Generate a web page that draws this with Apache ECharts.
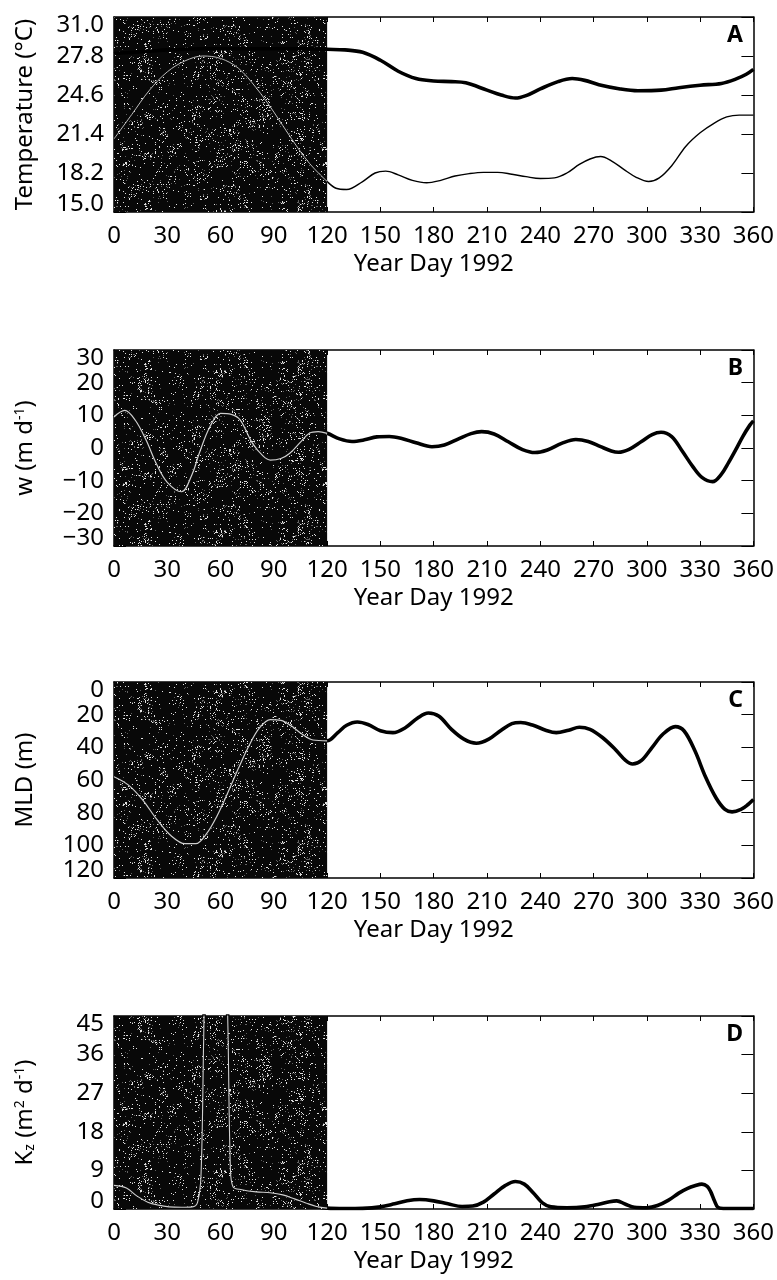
<!DOCTYPE html>
<html><head><meta charset="utf-8">
<script src="https://cdn.jsdelivr.net/npm/echarts@6/dist/echarts.min.js"></script>
<style>html,body{margin:0;padding:0;background:#fff}#c{width:777px;height:1280px}</style>
</head><body><div id="c"></div>
<script>
// ---------------- DATA ----------------
const xTicks = [0,30,60,90,120,150,180,210,240,270,300,330,360];
const tempTicks = [15.0,18.2,21.4,24.6,27.8,31.0];
const wTicks = [-30,-20,-10,0,10,20,30];
const mldTicks = [0,20,40,60,80,100,120];
const kzTicks = [0,9,18,27,36,45];
const shadeRange = [0,120];
const panelLetters = ['A','B','C','D'];
const xTitle = 'Year Day 1992';

// Panel A: surface temperature (thick) and deep temperature (thin)
const sstData = [[0,28.0],[10,28.1],[20,28.2],[30,28.3],[40,28.35],[50,28.4],[60,28.4],[70,28.4],[80,28.4],[90,28.4],[100,28.4],[110,28.4],[120,28.35],[130,28.3],[140,28.1],[150,27.45],[160,26.55],[170,25.95],[180,25.75],[190,25.7],[198,25.6],[210,25.0],[218,24.6],[226,24.35],[232,24.55],[240,25.1],[250,25.7],[258,25.95],[265,25.8],[273,25.45],[285,25.1],[295,24.95],[308,25.0],[318,25.2],[330,25.4],[342,25.55],[350,25.9],[356,26.3],[360,26.7]];
const deepTData = [[0,21.0],[10,23.0],[20,25.0],[30,26.5],[40,27.4],[50,27.8],[60,27.6],[70,26.8],[80,25.2],[90,23.2],[100,21.0],[110,19.0],[120,17.5],[125,16.95],[131,16.85],[140,17.5],[147,18.2],[153,18.35],[160,18.05],[168,17.6],[176,17.4],[184,17.6],[192,17.95],[200,18.15],[208,18.25],[216,18.25],[224,18.1],[232,17.9],[240,17.75],[248,17.8],[255,18.2],[262,18.9],[268,19.35],[274,19.55],[280,19.2],[287,18.5],[294,17.85],[301,17.5],[307,17.8],[314,18.8],[322,20.4],[330,21.5],[338,22.3],[345,22.8],[352,22.95],[360,22.95]];
// Panel B: vertical velocity w
const wData = [[0,9.5],[6,11.5],[12,8.5],[18,2.5],[24,-5],[30,-10.5],[38,-13.4],[44,-8],[48,-1.6],[54,6.5],[60,10.6],[66,10.3],[71,8.6],[78,1.4],[84,-2.5],[88,-3.7],[94,-3.2],[99,-1.6],[105,1.8],[110,4.5],[115,5.0],[120,4.5],[127,2.8],[134,2.0],[141,2.5],[148,3.4],[155,3.5],[162,2.9],[170,1.6],[179,0.4],[186,0.9],[194,2.8],[201,4.4],[207,5.0],[214,4.3],[222,1.9],[230,-0.5],[237,-1.4],[244,-0.6],[252,1.4],[260,2.6],[267,2.0],[274,0.4],[280,-0.9],[284,-1.3],[290,-0.4],[297,2.0],[303,4.1],[308,4.8],[314,3.5],[320,-1.0],[326,-5.8],[331,-9.0],[337,-10.3],[342,-8.0],[346,-4.5],[350,-0.6],[354,3.5],[358,7.0],[360,8.3]];
// Panel C: mixed layer depth
const mldData = [[0,58],[8,63],[16,72],[24,84],[32,94],[40,99],[46,99],[52,93],[58,82],[64,68],[70,53],[76,39],[82,28],[88,23],[94,23.5],[100,27],[106,32],[112,35.5],[120,36],[126,31],[131,26.5],[137,24.5],[143,26],[150,29.8],[157,31],[164,28],[171,22],[177,19],[183,21],[190,29],[197,35],[204,37.5],[211,35],[218,29.5],[224,25.5],[229,24.8],[236,26.5],[243,29.5],[249,31],[256,29.5],[262,27.7],[268,29],[275,34],[282,41],[288,48],[292,50.2],[297,48],[303,40],[309,32],[316,27.3],[321,30],[327,42],[333,58],[339,71],[344,78],[348,79.5],[353,78],[357,75],[360,72]];
// Panel D: vertical diffusivity Kz
const kzData = [[0,5.5],[7,4.9],[13,3.0],[19,1.6],[25,0.9],[31,0.5],[38,0.4],[44,0.5],[47,1.5],[49,8],[50.5,40],[52,70],[57,80],[62,70],[64,45],[65.5,10],[67,5.2],[72,4.5],[80,4.0],[88,3.8],[95,3.3],[102,2.3],[108,1.4],[114,0.6],[120,0.2],[130,0.1],[140,0.15],[150,0.5],[158,1.2],[165,1.9],[172,2.2],[180,1.9],[188,1.2],[196,0.6],[202,0.7],[208,1.6],[214,3.5],[220,5.4],[226,6.4],[231,5.8],[236,3.8],[241,1.5],[246,0.5],[255,0.3],[265,0.5],[273,1.1],[279,1.7],[283,1.9],[288,1.1],[293,0.4],[300,0.3],[306,0.8],[312,2.0],[318,3.7],[323,4.8],[327,5.4],[331,5.8],[334,5.3],[336,4.0],[338,2.0],[340,0.4],[343,0.1],[350,0.1],[360,0.1]];

// ---------------- STYLE / LAYOUT ----------------
const FONT = '"Noto Sans", "DejaVu Sans", sans-serif';
const FS = 24;
const grids = [
  {top:17, height:195},
  {top:350, height:196},
  {top:682, height:196},
  {top:1016, height:193}
];
const panels = [
  {ticks:tempTicks, inverse:false, fmt:v=>v.toFixed(1), name:'Temperature (°C)',
   series:[{data:sstData, width:3.6, shadeColor:'#000', shadeWidth:3.6},{data:deepTData, width:1.4, shadeColor:'#bdbdbd', shadeWidth:1.0}]},
  {ticks:wTicks, inverse:false, fmt:v=>v<0?'\u2212'+Math.abs(v):String(v), name:'w (m d{sup|-1})',
   series:[{data:wData, width:3.6, shadeColor:'#cfcfcf', shadeWidth:1.2}]},
  {ticks:mldTicks, inverse:true, fmt:v=>String(v), name:'MLD (m)',
   series:[{data:mldData, width:3.6, shadeColor:'#cfcfcf', shadeWidth:1.2}]},
  {ticks:kzTicks, inverse:false, fmt:v=>String(v), name:'K{sub|z} (m{sup|2} d{sup|-1})',
   series:[{data:kzData, width:3.6, shadeColor:'#cfcfcf', shadeWidth:1.1}]}
];

function hash(x, y) {
  let n = Math.imul(x, 374761393) + Math.imul(y, 668265263);
  n = Math.imul(n ^ (n >>> 13), 1274126177);
  n = n ^ (n >>> 16);
  return (n >>> 0) / 4294967296;
}
function makeTexture() {
  const w = 200, h = 160;
  const cv = document.createElement('canvas');
  cv.width = w; cv.height = h;
  const ctx = cv.getContext('2d');
  const img = ctx.createImageData(w, h);
  for (let y = 0; y < h; y++) {
    for (let x = 0; x < w; x++) {
      const hc = hash(Math.floor(x / 8) + 1000, Math.floor(y / 8) + 2000);
      const dens = 0.012 + 0.13 * hc * hc * hc;
      const hv = hash(x, y);
      let g = 8;
      if (hv < dens) g = 225; else if (hv < dens * 1.6) g = 95;
      const i = (y * w + x) * 4;
      img.data[i] = g; img.data[i+1] = g; img.data[i+2] = g; img.data[i+3] = 255;
    }
  }
  ctx.putImageData(img, 0, 0);
  return cv;
}
const texture = makeTexture();

const xAxes = [], yAxes = [], series = [], titles = [];
const axisLineStyle = {color:'#000', width:1.5};
panels.forEach((p, i) => {
  const min = p.ticks[0], max = p.ticks[p.ticks.length - 1];
  xAxes.push({
    type:'value', gridIndex:i, min:0, max:360, interval:30, position:'bottom',
    axisLine:{show:true, onZero:false, lineStyle:axisLineStyle},
    axisTick:{show:true, inside:true, length:5, lineStyle:{color:'#000', width:1}},
    axisLabel:{show:true, color:'#000', fontSize:FS, fontFamily:FONT, margin:12, showMinLabel:true, showMaxLabel:true, hideOverlap:false},
    splitLine:{show:false},
    name:xTitle, nameLocation:'middle', nameGap:40,
    nameTextStyle:{color:'#000', fontSize:FS, fontFamily:FONT}
  });
  xAxes.push({
    type:'value', gridIndex:i, min:0, max:360, interval:30, position:'top',
    axisLine:{show:true, onZero:false, lineStyle:axisLineStyle},
    axisTick:{show:true, inside:true, length:5, lineStyle:{color:'#000', width:1}},
    axisLabel:{show:false}, splitLine:{show:false}
  });
  const minAlign = p.inverse ? 'top' : 'bottom';
  const maxAlign = p.inverse ? 'bottom' : 'top';
  yAxes.push({
    type:'value', gridIndex:i, min:min, max:max, inverse:p.inverse, position:'left',
    axisLine:{show:true, onZero:false, lineStyle:axisLineStyle},
    axisTick:{show:true, inside:true, length:12, customValues:p.ticks, lineStyle:{color:'#000', width:1}},
    axisLabel:{show:true, customValues:p.ticks, formatter:p.fmt, color:'#000', fontSize:FS, lineHeight:16, fontFamily:FONT, margin:10,
      showMinLabel:true, showMaxLabel:true, hideOverlap:false,
      verticalAlignMinLabel:minAlign, verticalAlignMaxLabel:maxAlign},
    splitLine:{show:false},
    name:p.name, nameLocation:'middle', nameGap:77,
    nameTextStyle:{color:'#000', fontSize:FS, fontFamily:FONT,
      rich:{
        sup:{fontSize:14, fontFamily:FONT, color:'#000', verticalAlign:'top', lineHeight:14},
        sub:{fontSize:14, fontFamily:FONT, color:'#000', verticalAlign:'bottom', lineHeight:14}
      }}
  });
  yAxes.push({
    type:'value', gridIndex:i, min:min, max:max, inverse:p.inverse, position:'right',
    axisLine:{show:true, onZero:false, lineStyle:axisLineStyle},
    axisTick:{show:true, inside:true, length:12, customValues:p.ticks, lineStyle:{color:'#000', width:1}},
    axisLabel:{show:false}, splitLine:{show:false}
  });
  const xi = i * 2, yi = i * 2;
  p.series.forEach(s => {
    series.push({
      type:'line', xAxisIndex:xi, yAxisIndex:yi, data:s.data, showSymbol:false, symbol:'none',
      smooth:0.35, clip:true, z:2, lineStyle:{color:'#000', width:s.width}
    });
  });
  series.push({
    type:'custom', xAxisIndex:xi, yAxisIndex:yi, z:3, silent:true, clip:true,
    data:[shadeRange],
    renderItem:function(params, api){
      const cs = params.coordSys;
      const x0 = api.coord([api.value(0), min])[0];
      const x1 = api.coord([api.value(1), min])[0];
      return {type:'rect', shape:{x:x0, y:cs.y, width:x1 - x0, height:cs.height},
        style:{fill:{image:texture, repeat:'repeat'}}};
    }
  });
  p.series.forEach(s => {
    series.push({
      type:'line', xAxisIndex:xi, yAxisIndex:yi,
      data:s.data.filter(d => d[0] <= shadeRange[1]), showSymbol:false, symbol:'none',
      smooth:0.35, clip:true, z:4, lineStyle:{color:s.shadeColor, width:s.shadeWidth}
    });
  });
  titles.push({text:panelLetters[i], right:34, top:grids[i].top + 7, padding:0,
    textStyle:{color:'#000', fontSize:23, fontWeight:'bold', fontFamily:FONT}});
});

const chart = echarts.init(document.getElementById('c'), null, {renderer:'canvas'});
chart.setOption({
  animation:false,
  backgroundColor:'#fff',
  title:titles,
  grid:grids.map(g => ({left:114, right:22, top:g.top, height:g.height, containLabel:false})),
  xAxis:xAxes,
  yAxis:yAxes,
  series:series
});
</script></body></html>
